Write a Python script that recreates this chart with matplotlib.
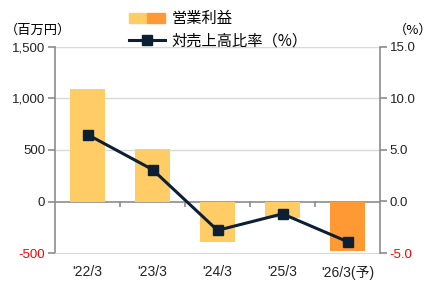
import numpy as np
import matplotlib
matplotlib.use("Agg")
import matplotlib.pyplot as plt
from matplotlib.patches import Patch
from matplotlib.lines import Line2D
from matplotlib.legend_handler import HandlerTuple

plt.rcParams['font.family'] = ['Liberation Sans', 'Noto Sans CJK JP', 'DejaVu Sans']

#----Data----
periods = ["'22/3", "'23/3", "'24/3", "'25/3", "'26/3(予)"]
op_income = [1090, 510, -390, -165, -480]   # 営業利益 (百万円)
margin = [6.5, 3.1, -2.8, -1.2, -3.9]       # 対売上高比率 (%)
is_forecast = [False, False, False, False, True]
#----End Data----

cLight = "#FFCC66"
cFcst = "#FF9933"
cLine = "#0D1F33"
cAxis = "#8C8C8C"
cGrid = "#D9D9D9"

fig = plt.figure(figsize=(4.36, 2.93), dpi=100)
ax = fig.add_axes([55/436, 1-253/293, (380-55)/436, (253-47)/293])
ax2 = ax.twinx()

x = np.arange(len(periods))
colors = [cFcst if f else cLight for f in is_forecast]
ax.bar(x, op_income, width=0.53, color=colors, zorder=2)
ax2.plot(x, margin, color=cLine, lw=2.2, marker="s", ms=7, zorder=3)

ax.set_xlim(-0.5, len(periods)-0.5)
ax.set_ylim(-500, 1500)
ax2.set_ylim(-5, 15)
ax.set_yticks([-500, 0, 500, 1000, 1500])
ax.set_yticklabels([f"{v:,}" for v in [-500, 0, 500, 1000, 1500]])
ax2.set_yticks([-5, 0, 5, 10, 15])
ax2.set_yticklabels([f"{v:.1f}" for v in [-5, 0, 5, 10, 15]])

#gridlines
for v in [500, 1000, 1500]:
    ax.axhline(v, color=cGrid, lw=1, zorder=0)
ax.axhline(0, color=cAxis, lw=1.2, zorder=1)

#spines
for s in ["top"]:
    ax.spines[s].set_visible(False)
    ax2.spines[s].set_visible(False)
ax.spines["bottom"].set_color(cGrid)
ax2.spines["bottom"].set_visible(False)
ax.spines["left"].set_color(cAxis)
ax.spines["right"].set_visible(False)
ax2.spines["left"].set_visible(False)
ax2.spines["right"].set_color(cAxis)
ax.spines["left"].set_linewidth(1.2)
ax2.spines["right"].set_linewidth(1.2)

ax.set_xticks(x)
ax.set_xticklabels(periods)
ax.tick_params(axis="x", length=0, pad=9, labelsize=10, colors="#222222")
ax.tick_params(axis="y", length=5, width=1.2, color=cAxis, labelsize=9.5, pad=2)
ax2.tick_params(axis="y", length=5, width=1.2, color=cAxis, labelsize=9.5, pad=2)

#ticks on zero line between categories
secax = ax.secondary_xaxis(0.25)
secax.set_xticks(x[:-1] + 0.5)
secax.set_xticklabels([])
secax.tick_params(length=4, width=1.2, color=cAxis)
secax.spines["bottom"].set_visible(False)

for lbl in ax.get_yticklabels():
    lbl.set_color("red" if lbl.get_text().startswith("-") else "#222222")
for lbl in ax2.get_yticklabels():
    lbl.set_color("red" if lbl.get_text().startswith("-") else "#222222")

fig.text(5/436, 1-30/293, "（百万円）", fontsize=9.5, va="center", ha="left",
         family=['Noto Sans CJK JP', 'DejaVu Sans'])
fig.text(432/436, 1-30/293, "（%）", fontsize=9.5, va="center", ha="right",
         family=['Noto Sans CJK JP', 'DejaVu Sans'])

hBar = (Patch(color=cLight), Patch(color=cFcst))
hLine = Line2D([], [], color=cLine, lw=2.2, marker="s", ms=7)
fig.legend([hBar, hLine], ["営業利益", "対売上高比率（%）"],
           handler_map={tuple: HandlerTuple(ndivide=None, pad=0)},
           loc="center", bbox_to_anchor=(0.5, 1-30/293), frameon=False,
           prop={'family': ['Noto Sans CJK JP', 'DejaVu Sans'], 'size': 11},
           handlelength=2.4, handletextpad=0.4, labelspacing=0.35, borderpad=0)

fig.savefig("out.png", dpi=100)
